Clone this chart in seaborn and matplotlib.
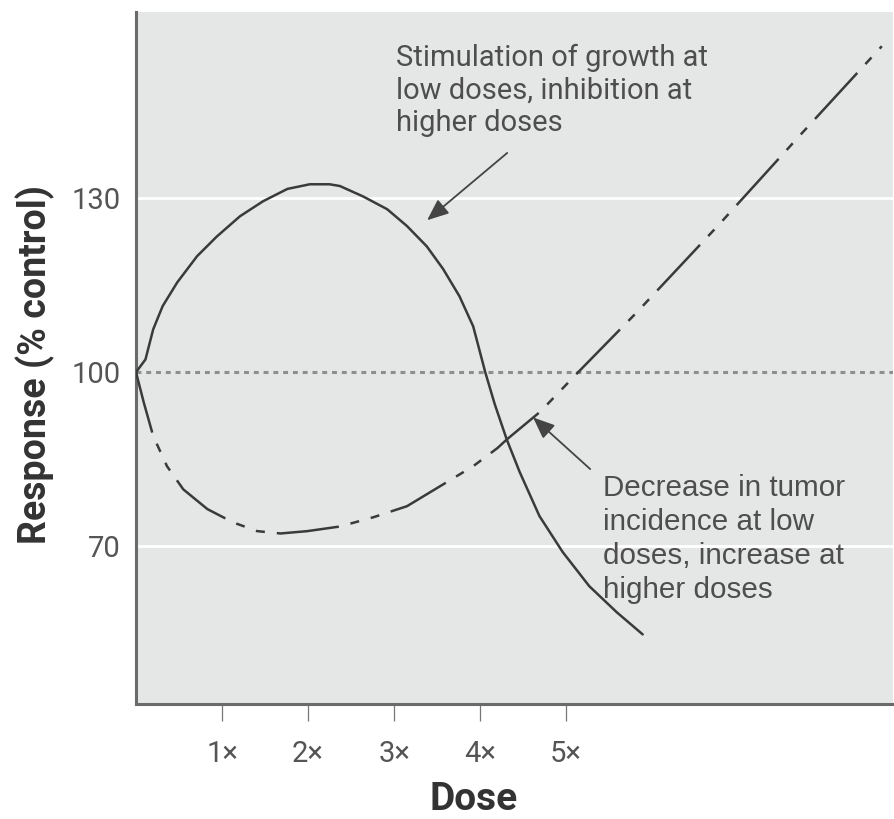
import matplotlib
matplotlib.use("Agg")
import matplotlib.pyplot as plt
import seaborn as sns
from matplotlib import font_manager

# ---------------- data ----------------
solid_x = [0.0, 0.11, 0.20, 0.31, 0.48, 0.71, 0.94, 1.21, 1.48, 1.76, 2.02, 2.25, 2.37,
           2.64, 2.92, 3.15, 3.38, 3.57, 3.76, 3.92, 4.06, 4.17, 4.31, 4.46, 4.69, 4.96,
           5.27, 5.59, 5.89]
solid_y = [100.0, 102.2, 107.4, 111.4, 115.5, 120.0, 123.4, 126.9, 129.5, 131.6, 132.4,
           132.4, 132.1, 130.3, 128.1, 125.2, 121.7, 117.8, 113.1, 107.9, 100.0, 94.5,
           88.4, 82.8, 75.2, 69.0, 63.1, 58.6, 54.8]

dashed_x = [0.0, 0.09, 0.20, 0.36, 0.55, 0.83, 1.13, 1.41, 1.68, 1.99, 2.37, 2.76, 3.15,
            3.53, 3.92, 4.20, 4.31, 4.70, 5.14, 5.82, 6.78, 7.71, 8.67]
dashed_y = [100.0, 94.8, 89.0, 83.8, 79.8, 76.4, 74.1, 72.6, 72.2, 72.6, 73.4, 75.0, 76.9,
            80.3, 83.8, 86.9, 88.4, 93.2, 100.0, 110.3, 125.5, 140.7, 156.2]

x_ticks = [1, 2, 3, 4, 5]
x_tick_labels = ["1\u00d7", "2\u00d7", "3\u00d7", "4\u00d7", "5\u00d7"]
y_ticks = [70, 100, 130]
y_tick_labels = ["70", "100", "130"]
white_grid_values = [70, 130]
control_value = 100

note_growth = "Stimulation of growth at\nlow doses, inhibition at\nhigher doses"
note_tumor = "Decrease in tumor\nincidence at low\ndoses, increase at\nhigher doses"

# ---------------- style ----------------
sns.set_theme(style="white")
names = {f.name for f in font_manager.fontManager.ttflist}
narrow = "Liberation Sans Narrow" if "Liberation Sans Narrow" in names else "Roboto"
plt.rcParams["font.family"] = [narrow, "DejaVu Sans"]

W, H = 894, 819
fig = plt.figure(figsize=(W / 100, H / 100), dpi=100)
fig.patch.set_facecolor("white")
left_px, right_px, top_px, bottom_px = 136, 893, 12, 704
ax = fig.add_axes([left_px / W, 1 - bottom_px / H,
                   (right_px - left_px) / W, (bottom_px - top_px) / H])
ax.set_facecolor("#e5e7e6")
ax.set_xlim(0, 8.8)
ax.set_ylim(42.8, 162.1)

for v in white_grid_values:
    ax.axhline(v, color="white", lw=2.0, zorder=1)
ax.axhline(control_value, color="#8e8e8e", lw=2.2, ls=(0, (1.6, 1.6)), zorder=1)

line_color = "#3a3a3a"
sns.lineplot(x=solid_x, y=solid_y, sort=False, estimator=None, color=line_color,
             lw=1.8, ax=ax, zorder=3, solid_joinstyle="round")
sns.lineplot(x=dashed_x, y=dashed_y, sort=False, estimator=None, color=line_color,
             lw=1.8, ls=(0, (25, 4.8, 3.6, 4.8, 3.6, 4.8)), ax=ax, zorder=3,
             dash_joinstyle="round")

# spines
for s in ["top", "right"]:
    ax.spines[s].set_visible(False)
for s in ["left", "bottom"]:
    ax.spines[s].set_color("#6a6a6a")
    ax.spines[s].set_linewidth(2.2)

ax.set_xticks(x_ticks)
ax.set_xticklabels(x_tick_labels)
ax.set_yticks(y_ticks)
ax.set_yticklabels(y_tick_labels)
ax.tick_params(axis="x", bottom=True, direction="out", length=12, width=0.9,
               color="#777777", pad=14, labelsize=21, labelcolor="#555555")
ax.tick_params(axis="y", left=False, length=0, pad=11, labelsize=21,
               labelcolor="#555555")

ax.set_xlabel("Dose", fontsize=28, fontweight="bold", color="#333333", va="center")
ax.xaxis.set_label_coords((474 - left_px) / (right_px - left_px),
                          (bottom_px - 800) / (bottom_px - top_px))
ax.set_ylabel("Response (% control)", fontsize=27, fontweight="bold",
              color="#333333", va="center")
ax.yaxis.set_label_coords((35 - left_px) / (right_px - left_px),
                          (bottom_px - 365) / (bottom_px - top_px))

# annotations
arrow_kw = dict(arrowstyle="-|>,head_length=0.6,head_width=0.25", color="#444444",
                lw=1.3, mutation_scale=22, shrinkA=0, shrinkB=0)
ax.annotate("", xy=(3.384, 126.2), xytext=(4.315, 137.8), arrowprops=arrow_kw,
            zorder=4)
ax.annotate("", xy=(4.616, 92.2), xytext=(5.28, 83.3), arrowprops=arrow_kw,
            zorder=4)
ax.text(3.025, 156.6, note_growth, ha="left", va="top", fontsize=21,
        color="#4e4e4e", family=["Roboto", "DejaVu Sans"], linespacing=1.2)
ax.text(5.43, 82.4, note_tumor, ha="left", va="top", fontsize=21.3,
        color="#4e4e4e", family=["Liberation Sans", "DejaVu Sans"], linespacing=1.27)

fig.savefig("out.png", dpi=100)
